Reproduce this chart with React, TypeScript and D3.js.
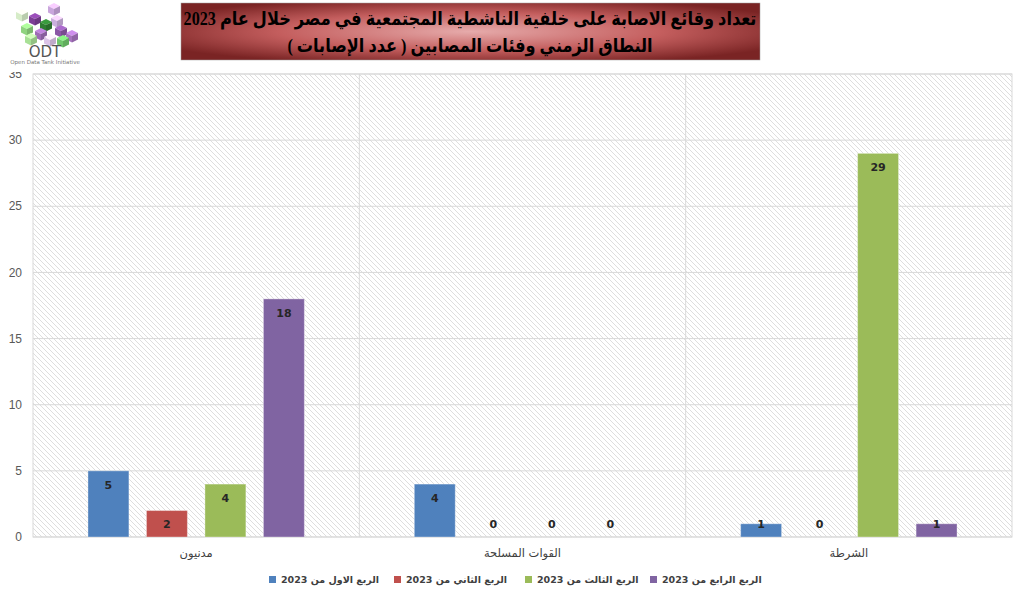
import * as d3 from "d3";
import { useEffect, useRef } from "react";

const categories = ["مدنيون", "القوات المسلحة", "الشرطة"];
const seriesNames = [
  "الربع الاول من 2023",
  "الربع الثاني من 2023",
  "الربع الثالث من 2023",
  "الربع الرابع من 2023",
];
const q1 = [5, 4, 1];
const q2 = [2, 0, 0];
const q3 = [4, 0, 29];
const q4 = [18, 0, 1];
const colors = ["#4f81bd", "#c0504d", "#9bbb59", "#8064a2"];
const yTicks = [0, 5, 10, 15, 20, 25, 30, 35];
const titleLines = [
  "تعداد وقائع الاصابة على خلفية الناشطية المجتمعية في مصر خلال عام 2023",
  "النطاق الزمني وفئات المصابين ( عدد الإصابات )",
];

// logo cubes: x, y, face color
const cubes: [number, number, string][] = [
  [48, 6, "#c9a6dc"], [16, 12, "#d6ecc8"], [29, 16, "#7d3f96"],
  [51, 18, "#cbb0de"], [40, 22, "#2f7d32"], [21, 26, "#8fd37f"],
  [55, 28, "#8b56a6"], [66, 33, "#a773bf"], [35, 31, "#9d6bb5"],
  [25, 36, "#a8e096"], [44, 37, "#dcc4e8"], [57, 38, "#70c66c"],
];

function App() {
  const ref = useRef<SVGSVGElement>(null);
  const W = 1024;
  const H = 595;

  useEffect(() => {
    const svg = d3.select(ref.current).attr("width", W).attr("height", H);
    svg.selectAll("*").remove();

    const left = 33, right = 1012, top = 74, bottom = 537;
    const values = [q1, q2, q3, q4];

    const defs = svg.append("defs");
    const pat = defs.append("pattern").attr("id", "hatch")
      .attr("patternUnits", "userSpaceOnUse").attr("width", 5).attr("height", 5);
    pat.append("rect").attr("width", 5).attr("height", 5).attr("fill", "#fff");
    pat.append("path").attr("d", "M-1,-1L6,6M-1,4L1,6M4,-1L6,1")
      .attr("stroke", "#dedede").attr("stroke-width", 1);
    const grad = defs.append("radialGradient").attr("id", "titleGrad")
      .attr("cx", "50%").attr("cy", "50%").attr("r", "60%");
    grad.append("stop").attr("offset", "0%").attr("stop-color", "#e6abab");
    grad.append("stop").attr("offset", "55%").attr("stop-color", "#c45e5e");
    grad.append("stop").attr("offset", "100%").attr("stop-color", "#7a2424");

    const x0 = d3.scaleBand<string>().domain(categories).range([left, right]);
    const x1 = d3.scaleBand<string>().domain(seriesNames)
      .range([0, x0.bandwidth()]).paddingInner(0.3).paddingOuter(0.94);
    const y = d3.scaleLinear().domain([0, 35]).range([bottom, top]);

    svg.append("rect").attr("x", left).attr("y", top)
      .attr("width", right - left).attr("height", bottom - top)
      .attr("fill", "url(#hatch)").attr("stroke", "#d9d9d9");

    svg.append("g").selectAll("line").data(yTicks).join("line")
      .attr("x1", left).attr("x2", right)
      .attr("y1", (d) => y(d)).attr("y2", (d) => y(d))
      .attr("stroke", "#d9d9d9").attr("stroke-width", 1);

    svg.append("g").selectAll("line").data(categories.slice(1)).join("line")
      .attr("x1", (d) => x0(d)!).attr("x2", (d) => x0(d)!)
      .attr("y1", top).attr("y2", bottom)
      .attr("stroke", "#d9d9d9");

    svg.append("g").selectAll("text").data(yTicks).join("text")
      .attr("x", 22).attr("y", (d) => y(d)).attr("dy", "0.35em")
      .attr("text-anchor", "end").attr("fill", "#595959")
      .style("font", "12px 'Liberation Sans', Arial, sans-serif")
      .text((d) => d);

    const groups = svg.append("g").selectAll("g").data(categories).join("g")
      .attr("transform", (d) => `translate(${x0(d)},0)`);

    groups.each(function (cat, ci) {
      const g = d3.select(this);
      seriesNames.forEach((s, si) => {
        const v = values[si][ci];
        const bx = x1(s)!;
        g.append("rect").attr("x", bx).attr("y", y(v))
          .attr("width", x1.bandwidth()).attr("height", y(0) - y(v))
          .attr("fill", colors[si]).attr("stroke", "#ffffff")
          .attr("stroke-opacity", 0.35);
        g.append("text").attr("x", bx + x1.bandwidth() / 2)
          .attr("y", Math.min(y(v) + 14, y(0) - 13)).attr("dy", "0.35em")
          .attr("text-anchor", "middle").attr("fill", "#262626")
          .style("font", "bold 11px 'DejaVu Sans', sans-serif")
          .text(v);
      });
      g.append("text").attr("x", x0.bandwidth() / 2).attr("y", 553)
        .attr("dy", "0.35em").attr("text-anchor", "middle")
        .attr("direction", "rtl").attr("fill", "#404040")
        .style("font", "11.5px 'DejaVu Sans', sans-serif").text(cat);
    });

    // legend
    const legendX = [272, 397, 528, 653];
    const lg = svg.append("g").selectAll("g").data(seriesNames).join("g")
      .attr("transform", (_, i) => `translate(${legendX[i]},580)`);
    lg.append("rect").attr("x", -3).attr("y", -4).attr("width", 7).attr("height", 7)
      .attr("fill", (_, i) => colors[i]);
    lg.append("text").attr("x", 9).attr("y", 0).attr("dy", "0.35em")
      .attr("fill", "#404040")
      .style("font", "bold 9.5px 'DejaVu Sans', sans-serif")
      .text((d) => d);

    // logo
    svg.append("rect").attr("x", 0).attr("y", 0).attr("width", 175).attr("height", 72)
      .attr("fill", "#fff");
    const logo = svg.append("g");
    const s = 6;
    cubes.forEach(([cx, cy, c]) => {
      const cg = logo.append("g").attr("transform", `translate(${cx},${cy})`);
      cg.append("path").attr("d", `M0,0L${s},${-s / 2}L${2 * s},0L${s},${s / 2}Z`)
        .attr("fill", d3.color(c)!.brighter(0.6).toString());
      cg.append("path").attr("d", `M0,0L${s},${s / 2}L${s},${s * 1.6}L0,${s * 1.1}Z`)
        .attr("fill", c);
      cg.append("path").attr("d", `M${s},${s / 2}L${2 * s},0L${2 * s},${s * 1.1}L${s},${s * 1.6}Z`)
        .attr("fill", d3.color(c)!.darker(0.4).toString());
    });
    logo.append("text").attr("x", 45).attr("y", 57).attr("text-anchor", "middle")
      .attr("fill", "#555").style("font", "15px 'DejaVu Sans', sans-serif")
      .text("ODT");
    logo.append("text").attr("x", 45).attr("y", 64).attr("text-anchor", "middle")
      .attr("fill", "#777").style("font", "5.5px 'DejaVu Sans', sans-serif")
      .text("Open Data Tank Initiative");

    // title box
    svg.append("rect").attr("x", 181).attr("y", 3).attr("width", 579).attr("height", 57)
      .attr("fill", "url(#titleGrad)").attr("stroke", "#a0a0a0").attr("stroke-width", 0.5);
    svg.append("g").attr("transform", "translate(470,0) scale(0.85,1)")
      .selectAll("text").data(titleLines).join("text")
      .attr("x", 0).attr("y", (_, i) => 18 + i * 27).attr("dy", "0.35em")
      .attr("text-anchor", "middle").attr("direction", "rtl").attr("fill", "#000")
      .style("font", "bold 19px 'Liberation Serif', 'DejaVu Sans', serif")
      .text((d) => d);
  }, []);

  return <svg ref={ref} style={{ display: "block", position: "absolute", left: 0, top: 0 }} />;
}

export default App;
